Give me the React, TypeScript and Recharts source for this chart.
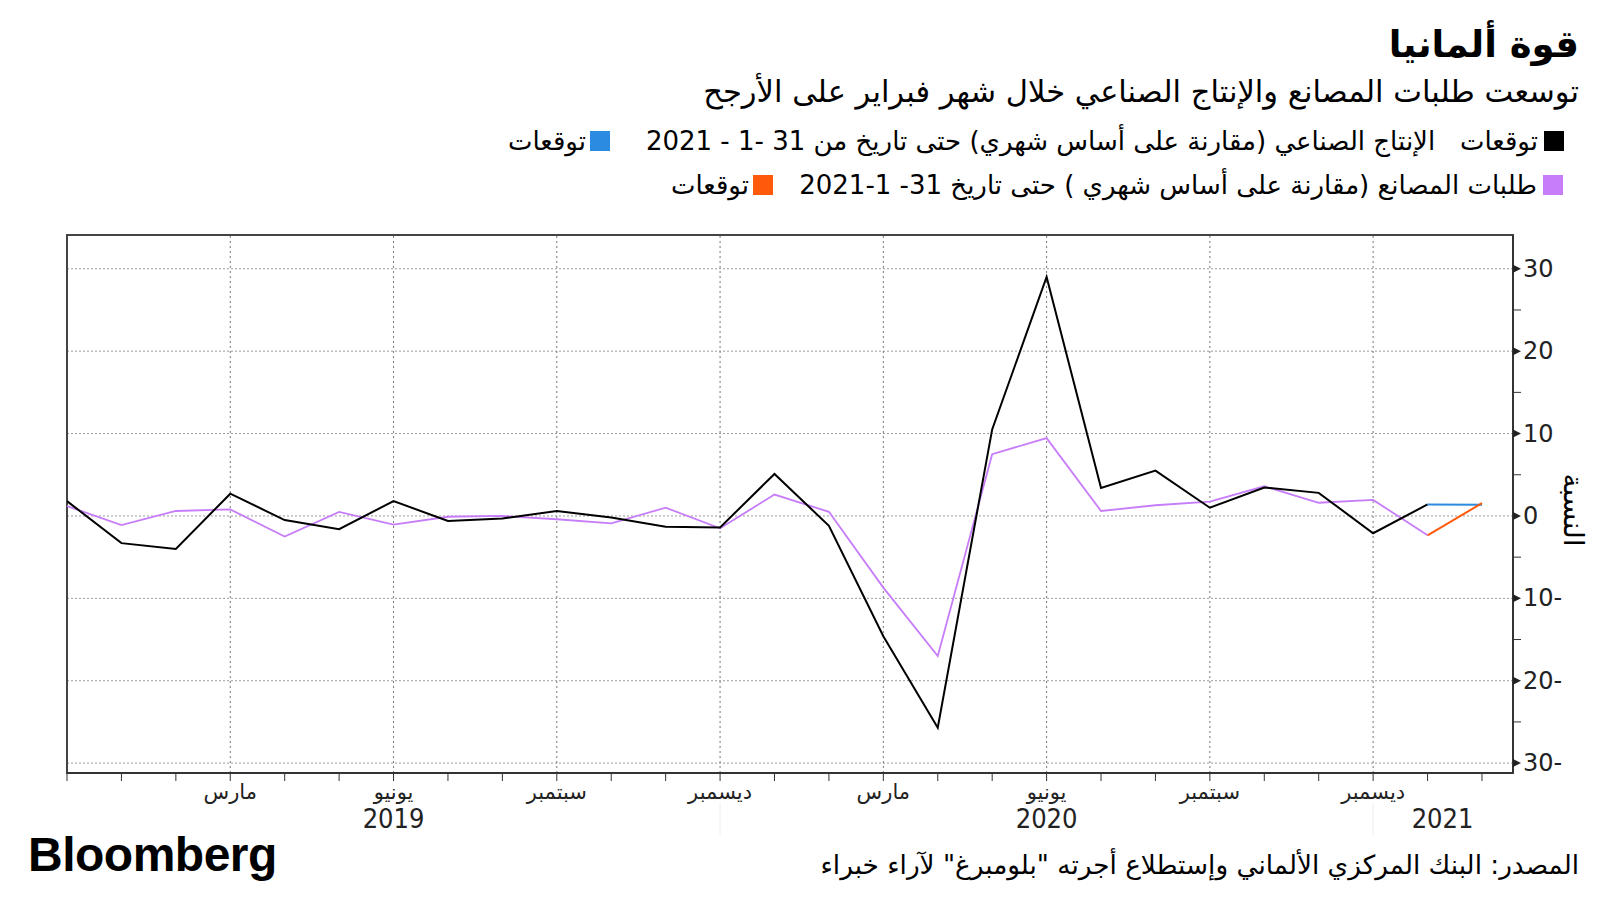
import React from "react";
import {
  CartesianGrid,
  Line,
  LineChart,
  ReferenceArea,
  ReferenceLine,
  XAxis,
  YAxis,
} from "recharts";

// Dec 2018 .. Feb 2021, one entry per month
const monthNames = [
  "ديسمبر", "يناير", "فبراير", "مارس", "أبريل", "مايو", "يونيو", "يوليو", "أغسطس", "سبتمبر", "أكتوبر", "نوفمبر",
  "ديسمبر", "يناير", "فبراير", "مارس", "أبريل", "مايو", "يونيو", "يوليو", "أغسطس", "سبتمبر", "أكتوبر", "نوفمبر",
  "ديسمبر", "يناير", "فبراير",
];
const yearLabels: Record<number, string> = { 6: "2019", 18: "2020", 25: "2021" };

// industrial production, m/m %, Dec 2018 .. Jan 2021
const industrial = [
  1.8, -3.3, -4.0, 2.7, -0.5, -1.6, 1.8, -0.6, -0.3, 0.6, -0.2, -1.3, -1.4,
  5.1, -1.2, -14.6, -25.7, 10.5, 29.0, 3.4, 5.5, 1.0, 3.45, 2.8, -2.1, 1.4,
];
// factory orders, m/m %, Dec 2018 .. Jan 2021
const orders = [
  1.2, -1.1, 0.6, 0.8, -2.5, 0.5, -1.05, -0.1, 0.0, -0.4, -0.9, 1.0, -1.5,
  2.6, 0.5, -8.7, -17.0, 7.5, 9.45, 0.6, 1.3, 1.75, 3.6, 1.6, 1.95, -2.35,
];
// forecasts, Jan 2021 .. Feb 2021
const industrialForecast = [1.4, 1.35];
const ordersForecast = [-2.35, 1.55];

const yTicks = [-30, -25, -20, -15, -10, -5, 0, 5, 10, 15, 20, 25, 30];
const yGrid = [-30, -20, -10, 0, 10, 20, 30];
const quarterMonths = [3, 6, 9, 12, 15, 18, 21, 24];
const X_MAX = 26.57;
const Y_MIN = -31.2;
const Y_MAX = 34.1;

const firstForecast = industrial.length - 1;
const data = monthNames.map((_, i) => ({
  i,
  industrial: i < industrial.length ? industrial[i] : null,
  orders: i < orders.length ? orders[i] : null,
  industrialF: i >= firstForecast ? industrialForecast[i - firstForecast] : null,
  ordersF: i >= firstForecast ? ordersForecast[i - firstForecast] : null,
}));

const arabic = "'DejaVu Sans', sans-serif";

function MonthTick({ x, y, payload }: any) {
  const i = payload.value as number;
  const showMonth = i > 0 && i % 3 === 0;
  const year = yearLabels[i];
  return (
    <g>
      <line x1={x} y1={y} x2={x} y2={y + 8} stroke="#333" strokeWidth={1} />
      {(i === 12 || i === 24) && (
        <line x1={x} y1={y + 30} x2={x} y2={y + 62} stroke="#eee" strokeWidth={1} />
      )}
      {showMonth && (
        <text x={x} y={y + 26} textAnchor="middle" fontSize={21} fontFamily={arabic} fill="#222">
          {monthNames[i]}
        </text>
      )}
      {year && (
        <text x={x + (i === 25 ? 15 : 0)} y={y + 55} textAnchor="middle" fontSize={27} fontFamily="'DejaVu Sans Condensed', 'DejaVu Sans', sans-serif" fill="#222">
          {year}
        </text>
      )}
    </g>
  );
}

function ValueTick({ x, y, payload }: any) {
  const v = payload.value as number;
  if (v % 10 !== 0) {
    return <line x1={x} y1={y} x2={x + 8} y2={y} stroke="#333" strokeWidth={1} />;
  }
  const label = v < 0 ? `${Math.abs(v)}-` : `${v}`;
  return (
    <g>
      <polygon points={`${x},${y - 4} ${x + 8},${y} ${x},${y + 4}`} fill="#222" />
      <text x={x + 10} y={y + 8} fontSize={24} fontFamily="'DejaVu Sans', sans-serif" fill="#222">
        {label}
      </text>
    </g>
  );
}

function Swatch({ color }: { color: string }) {
  return <span style={{ display: "inline-block", width: 20, height: 20, background: color, flex: "none" }} />;
}

export default function App() {
  return (
    <div style={{ position: "absolute", left: 0, top: 0, width: 1600, height: 900, background: "#fff", overflow: "hidden" }}>
      <LineChart
        width={1600}
        height={900}
        data={data}
        margin={{ top: 235, right: 27, bottom: 67, left: 67 }}
        style={{ position: "absolute", left: 0, top: 0 }}
      >
        <CartesianGrid
          horizontal
          vertical={false}
          horizontalValues={yGrid}
          stroke="#9a9a9a"
          strokeDasharray="2 2"
        />
        {quarterMonths.map((m) => (
          <ReferenceLine key={m} x={m} stroke="#777" strokeDasharray="2 3" />
        ))}
        <XAxis
          dataKey="i"
          type="number"
          domain={[0, X_MAX]}
          ticks={data.map((d) => d.i)}
          interval={0}
          tick={<MonthTick />}
          tickLine={false}
          tickSize={0}
          tickMargin={0}
          axisLine={{ stroke: "#333", strokeWidth: 2 }}
          height={60}
          allowDataOverflow
        />
        <YAxis
          orientation="right"
          type="number"
          domain={[Y_MIN, Y_MAX]}
          ticks={yTicks}
          interval={0}
          tick={<ValueTick />}
          tickLine={false}
          tickSize={0}
          tickMargin={0}
          axisLine={{ stroke: "#333", strokeWidth: 2 }}
          width={60}
          allowDataOverflow
        />
        <ReferenceArea x1={0} x2={X_MAX} y1={Y_MIN} y2={Y_MAX} fill="none" stroke="#444" strokeWidth={2} />
        <Line dataKey="orders" stroke="#c77dfa" strokeWidth={1.8} dot={false} isAnimationActive={false} />
        <Line dataKey="industrial" stroke="#000" strokeWidth={2} dot={false} isAnimationActive={false} />
        <Line dataKey="industrialF" stroke="#2a8be0" strokeWidth={2} dot={false} isAnimationActive={false} />
        <Line dataKey="ordersF" stroke="#ff5a0a" strokeWidth={2} dot={false} isAnimationActive={false} />
      </LineChart>

      <div style={{ position: "absolute", right: 21, top: 22, direction: "rtl", fontFamily: arabic, fontWeight: 700, fontSize: 37, lineHeight: "46px", color: "#000" }}>
        قوة ألمانيا
      </div>
      <div style={{ position: "absolute", right: 21, top: 72, direction: "rtl", fontFamily: arabic, fontSize: 30.5, lineHeight: "40px", color: "#000" }}>
        توسعت طلبات المصانع والإنتاج الصناعي خلال شهر فبراير على الأرجح
      </div>

      <div style={{ position: "absolute", right: 36, top: 124, direction: "rtl", display: "flex", alignItems: "center", gap: 6, fontFamily: arabic, fontSize: 26, lineHeight: "34px" }}>
        <Swatch color="#000" />
        <span>توقعات&nbsp;&nbsp; الإنتاج الصناعي (مقارنة على أساس شهري) حتى تاريخ من 31 -1 - 2021</span>
      </div>
      <div style={{ position: "absolute", right: 990, top: 124, direction: "rtl", display: "flex", alignItems: "center", gap: 4, fontFamily: arabic, fontSize: 26, lineHeight: "34px" }}>
        <Swatch color="#2a8be0" />
        <span>توقعات</span>
      </div>
      <div style={{ position: "absolute", right: 37, top: 168, direction: "rtl", display: "flex", alignItems: "center", gap: 6, fontFamily: arabic, fontSize: 26, lineHeight: "34px" }}>
        <Swatch color="#c77dfa" />
        <span>طلبات المصانع (مقارنة على أساس شهري ) حتى تاريخ 31- 1-2021</span>
      </div>
      <div style={{ position: "absolute", right: 827, top: 168, direction: "rtl", display: "flex", alignItems: "center", gap: 4, fontFamily: arabic, fontSize: 26, lineHeight: "34px" }}>
        <Swatch color="#ff5a0a" />
        <span>توقعات</span>
      </div>

      <div style={{ position: "absolute", left: 1573, top: 510, width: 0, height: 0 }}>
        <div style={{ transform: "translate(-50%, -50%) rotate(90deg)", direction: "rtl", fontFamily: arabic, fontSize: 28, whiteSpace: "nowrap", display: "inline-block" }}>
          النسبة
        </div>
      </div>

      <div style={{ position: "absolute", left: 28, top: 828, fontFamily: "'Liberation Sans', Arial, sans-serif", fontWeight: 700, fontSize: 48, lineHeight: "54px", letterSpacing: -0.5, color: "#000" }}>
        Bloomberg
      </div>
      <div style={{ position: "absolute", right: 21, top: 847, direction: "rtl", fontFamily: arabic, fontSize: 26.3, lineHeight: "36px", color: "#000" }}>
        المصدر: البنك المركزي الألماني وإستطلاع أجرته "بلومبرغ" لآراء خبراء
      </div>
    </div>
  );
}
